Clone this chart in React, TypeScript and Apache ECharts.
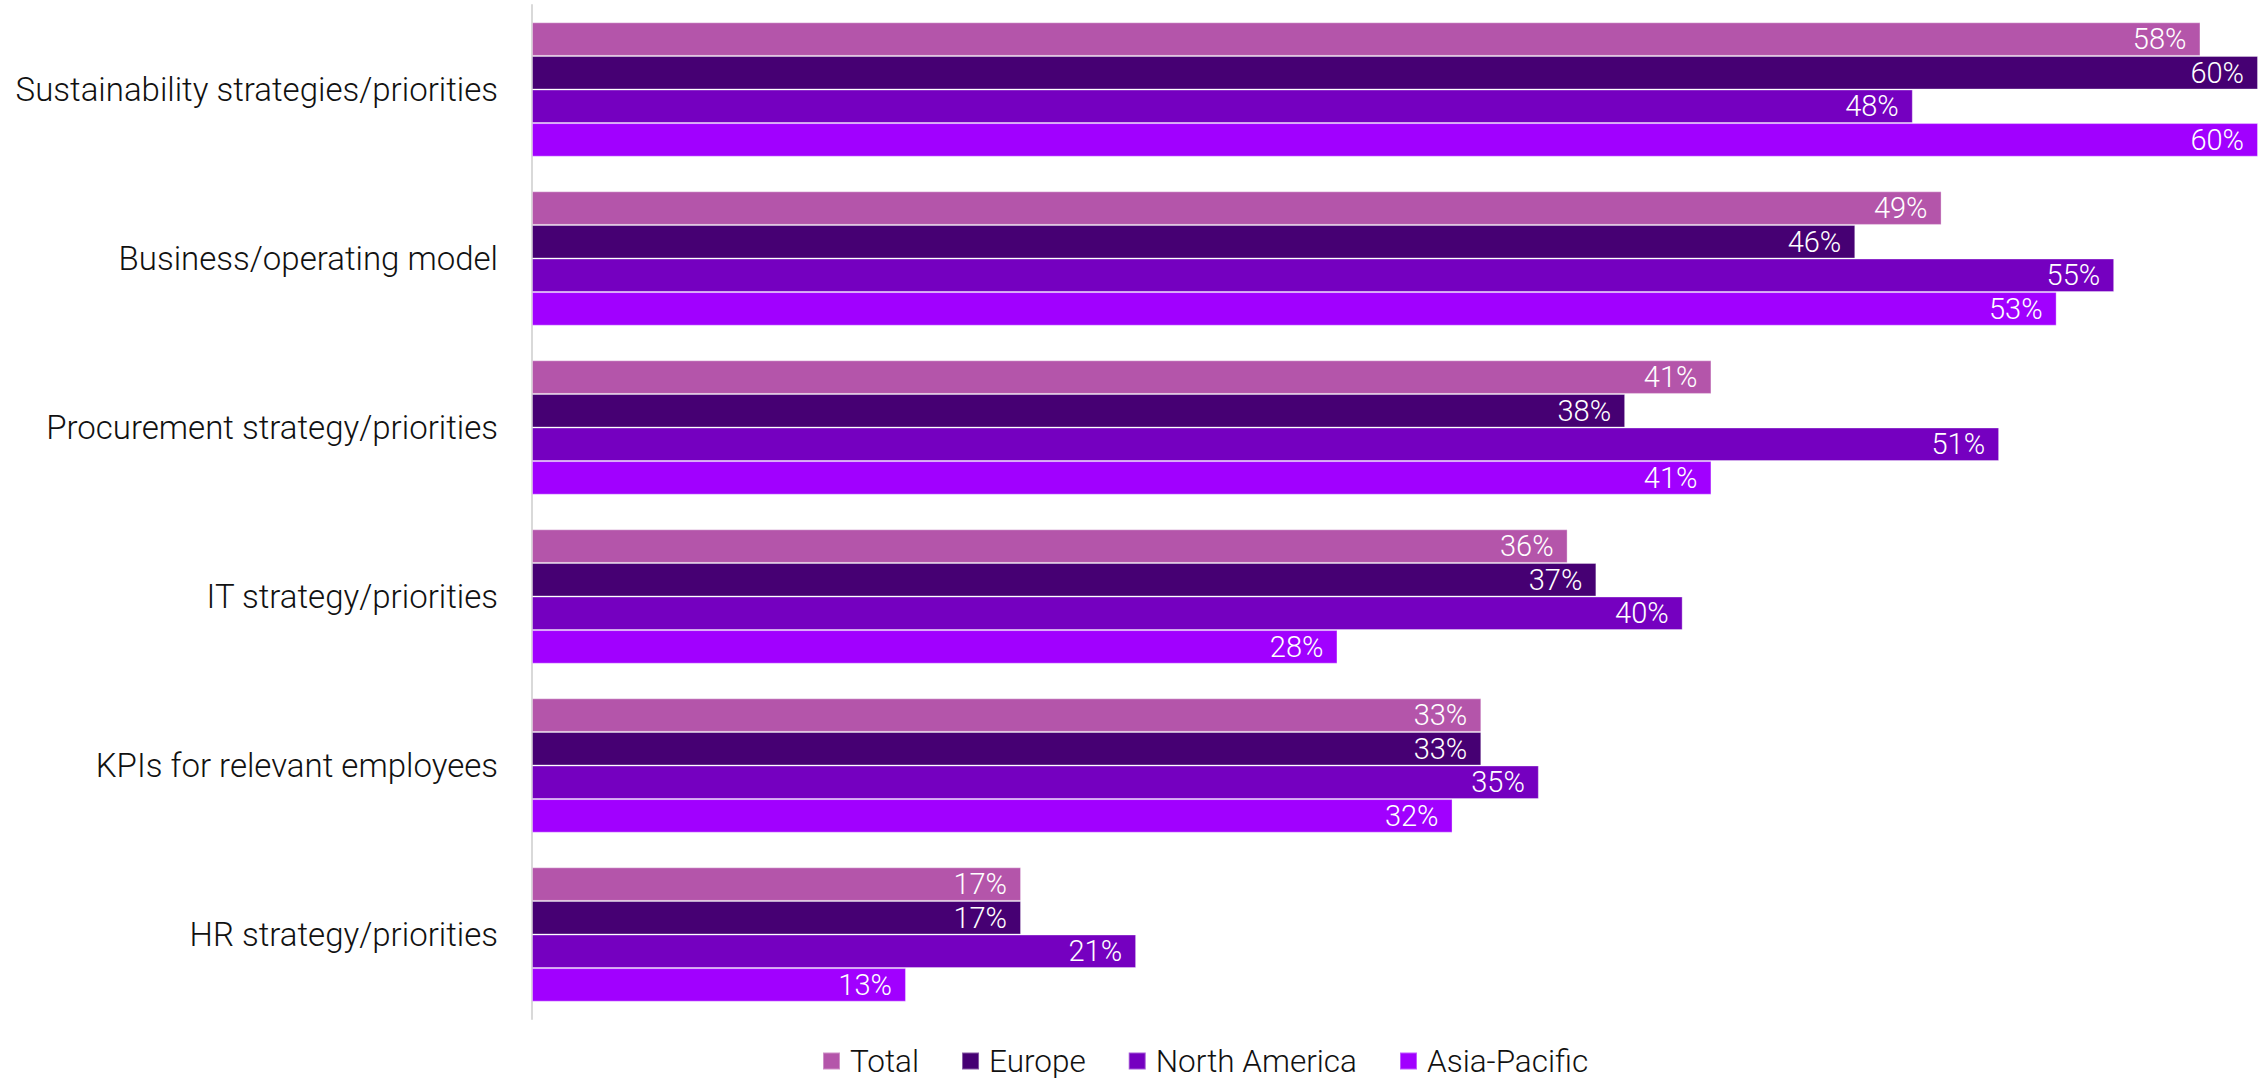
import React, { useEffect, useRef } from "react";
import * as echarts from "echarts";

const categories = [
  "Sustainability strategies/priorities",
  "Business/operating model",
  "Procurement strategy/priorities",
  "IT strategy/priorities",
  "KPIs for relevant employees",
  "HR strategy/priorities",
];
const seriesNames = ["Total", "Europe", "North America", "Asia-Pacific"];
const total = [58, 49, 41, 36, 33, 17];
const europe = [60, 46, 38, 37, 33, 17];
const northAmerica = [48, 55, 51, 40, 35, 21];
const asiaPacific = [60, 53, 41, 28, 32, 13];
const colors = ["#b455aa", "#460073", "#7500c0", "#a100ff"];

const FONT = "Roboto";

export default function App() {
  const ref = useRef<HTMLDivElement>(null);
  useEffect(() => {
    if (!ref.current) return;
    const chart = echarts.init(ref.current, undefined, { renderer: "svg" });
    const values = [total, europe, northAmerica, asiaPacific];
    chart.setOption({
      animation: false,
      backgroundColor: "#ffffff",
      grid: { left: 532, right: 3, top: 5, height: 1014, containLabel: false },
      legend: {
        data: seriesNames,
        top: 1040,
        left: 817,
        itemWidth: 17,
        itemHeight: 17,
        itemGap: 42,
        icon: "rect",
        textStyle: { fontFamily: FONT, fontWeight: 300, fontSize: 31.5, color: "#111", padding: [0, 0, 0, 5] },
      },
      xAxis: {
        type: "value",
        min: 0,
        max: 60,
        show: false,
      },
      yAxis: {
        type: "category",
        data: categories,
        inverse: true,
        axisLine: { show: true, lineStyle: { color: "#d9d9d9", width: 2 } },
        axisTick: { show: false },
        axisLabel: {
          margin: 34,
          fontFamily: FONT,
          fontWeight: 300,
          fontSize: 33,
          color: "#111",
        },
      },
      series: seriesNames.map((name, i) => ({
        name,
        type: "bar",
        data: values[i],
        barCategoryGap: "20.5%",
        barGap: "0%",
        itemStyle: { color: colors[i], borderColor: "rgba(255,255,255,0.35)", borderWidth: 1 },
        label: {
          show: true,
          position: "insideRight",
          distance: 14,
          formatter: "{c}%",
          color: "#ffffff",
          fontFamily: FONT,
          fontWeight: 300,
          fontSize: 29,
        },
      })),
    });
    return () => chart.dispose();
  }, []);
  return (
    <div
      ref={ref}
      style={{ position: "absolute", left: 0, top: 0, width: 2261, height: 1081 }}
    />
  );
}
